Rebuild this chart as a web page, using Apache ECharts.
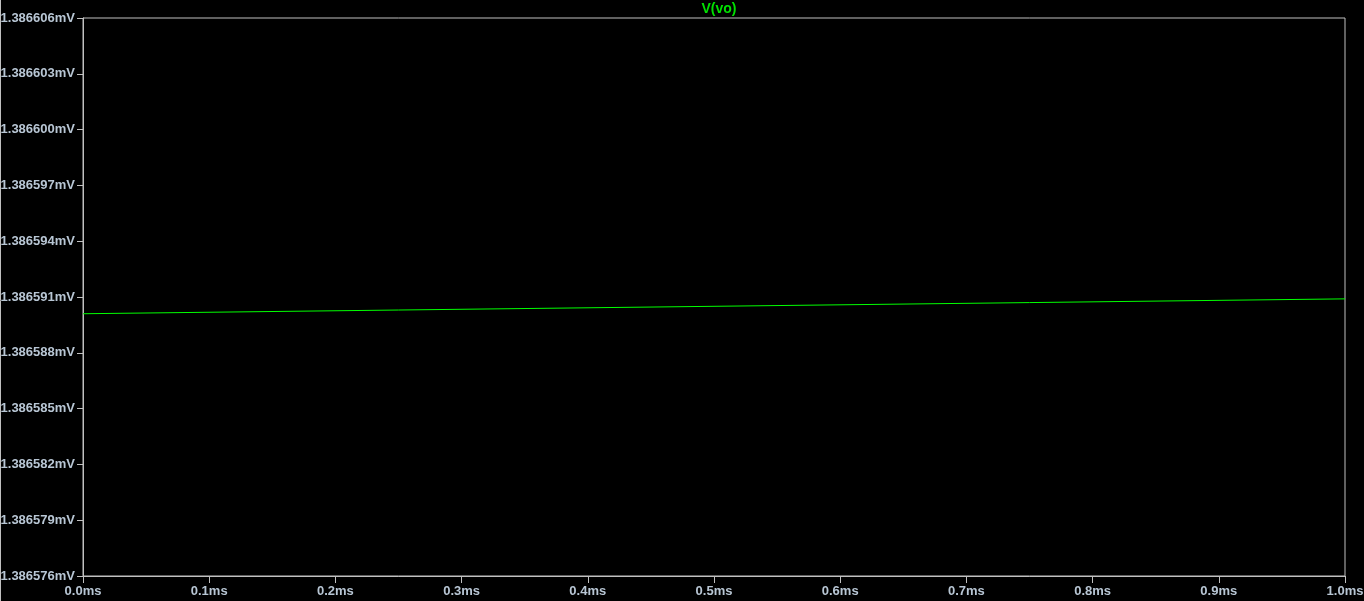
<!DOCTYPE html>
<html>
<head>
<meta charset="utf-8">
<script src="https://cdn.jsdelivr.net/npm/echarts@6/dist/echarts.min.js"></script>
<style>
  html, body { margin: 0; padding: 0; background: #000; }
  #main { width: 1364px; height: 601px; }
</style>
</head>
<body>
<div id="main"></div>
<script>
// time in ms, V(vo) in mV
var times = [0.0, 0.25, 0.5, 0.75, 1.0];
var vo = [1.3865901, 1.3865903, 1.3865905, 1.3865907, 1.3865909];

var yMin = 1.386576, yMax = 1.386606, yStep = 0.000003;
var xMin = 0, xMax = 1.0, xStep = 0.1;

var labelColor = '#b8c6d4';
var axisColor = '#c0c0c0';

var chart = echarts.init(document.getElementById('main'));
chart.setOption({
  backgroundColor: '#000',
  animation: false,
  title: {
    text: 'V(vo)',
    left: 714,
    textAlign: 'center',
    top: -3,
    textStyle: { color: '#00e000', fontSize: 14, fontWeight: 'bold', fontFamily: 'Liberation Sans' }
  },
  grid: {
    left: 83, right: 19, top: 18, bottom: 25,
    outerBoundsMode: 'none',
    containLabel: false,
    show: true, borderColor: axisColor, borderWidth: 1
  },
  xAxis: {
    type: 'value',
    min: xMin, max: xMax, interval: xStep,
    axisLine: { lineStyle: { color: axisColor } },
    axisTick: { length: 7, lineStyle: { color: axisColor } },
    splitLine: { show: false },
    axisLabel: {
      color: labelColor, fontSize: 13, fontWeight: 'bold', fontFamily: 'Liberation Sans',
      margin: 9,
      formatter: function (v) { return v.toFixed(1) + 'ms'; }
    }
  },
  yAxis: {
    type: 'value',
    min: yMin, max: yMax, interval: yStep,
    axisLine: { show: true, lineStyle: { color: axisColor } },
    axisTick: { show: true, length: 6, lineStyle: { color: axisColor } },
    splitLine: { show: false },
    axisLabel: {
      color: labelColor, fontSize: 13, fontWeight: 'bold', fontFamily: 'Liberation Sans',
      margin: 8,
      formatter: function (v) { return v.toFixed(6) + 'mV'; }
    }
  },
  graphic: [{
    type: 'line',
    shape: { x1: 0.5, y1: 0, x2: 0.5, y2: 601 },
    style: { stroke: axisColor, lineWidth: 1 }
  }],
  series: [{
    type: 'line',
    data: times.map(function (t, i) { return [t, vo[i]]; }),
    showSymbol: false,
    lineStyle: { color: '#00ff00', width: 1 }
  }]
});
</script>
</body>
</html>
